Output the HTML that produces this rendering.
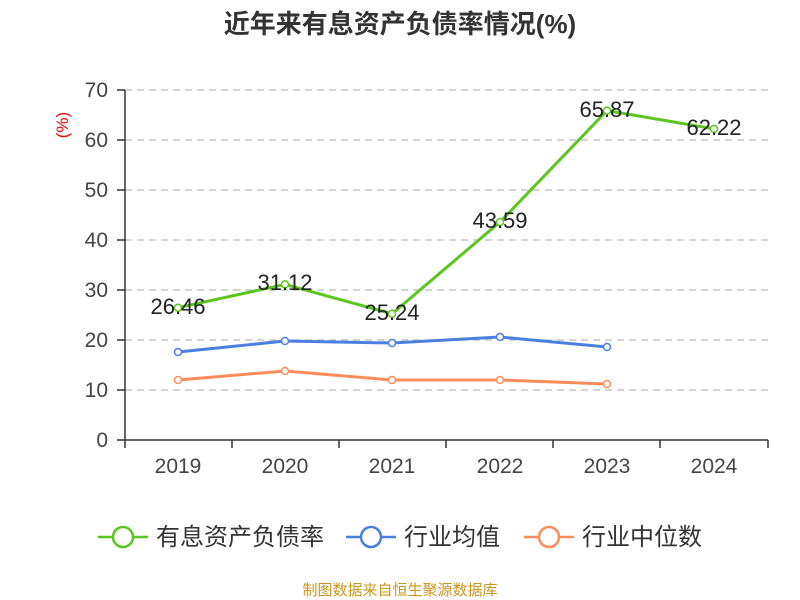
<!DOCTYPE html>
<html><head><meta charset="utf-8"><style>
html,body{margin:0;padding:0;background:#fff;}
svg{display:block;font-family:"Liberation Sans","Noto Sans CJK SC",sans-serif;}
</style></head><body>
<svg width="800" height="600" viewBox="0 0 800 600">
<text x="400" y="33" text-anchor="middle" font-size="26" font-weight="bold" fill="#333">近年来有息资产负债率情况(%)</text>
<text x="68" y="125" text-anchor="middle" font-size="17" fill="#e00" transform="rotate(-90 68 125)">(%)</text>
<g stroke="#bbb" stroke-dasharray="7,5" stroke-width="1.2">
<line x1="125" y1="90" x2="768" y2="90"/><line x1="125" y1="140" x2="768" y2="140"/>
<line x1="125" y1="190" x2="768" y2="190"/><line x1="125" y1="240" x2="768" y2="240"/>
<line x1="125" y1="290" x2="768" y2="290"/><line x1="125" y1="340" x2="768" y2="340"/>
<line x1="125" y1="390" x2="768" y2="390"/>
</g>
<g stroke="#333" stroke-width="1.5">
<line x1="125" y1="90" x2="125" y2="440"/><line x1="125" y1="440" x2="768" y2="440"/>
<line x1="117" y1="90" x2="125" y2="90"/><line x1="117" y1="140" x2="125" y2="140"/><line x1="117" y1="190" x2="125" y2="190"/><line x1="117" y1="240" x2="125" y2="240"/><line x1="117" y1="290" x2="125" y2="290"/><line x1="117" y1="340" x2="125" y2="340"/><line x1="117" y1="390" x2="125" y2="390"/><line x1="117" y1="440" x2="125" y2="440"/>
<line x1="125" y1="440" x2="125" y2="448"/><line x1="232" y1="440" x2="232" y2="448"/><line x1="339" y1="440" x2="339" y2="448"/><line x1="446" y1="440" x2="446" y2="448"/><line x1="553" y1="440" x2="553" y2="448"/><line x1="660" y1="440" x2="660" y2="448"/><line x1="768" y1="440" x2="768" y2="448"/>
</g>
<g font-size="21" fill="#444" text-anchor="end">
<text x="108" y="97">70</text><text x="108" y="147">60</text><text x="108" y="197">50</text><text x="108" y="247">40</text><text x="108" y="297">30</text><text x="108" y="347">20</text><text x="108" y="397">10</text><text x="108" y="447">0</text>
</g>
<g font-size="21" fill="#444" text-anchor="middle">
<text x="178" y="473">2019</text><text x="285" y="473">2020</text><text x="392" y="473">2021</text><text x="500" y="473">2022</text><text x="607" y="473">2023</text><text x="714" y="473">2024</text>
</g>
<polyline fill="none" stroke="#ff8c5a" stroke-width="3" points="178,380 285,371 392,380 500,380 607,384"/>
<g fill="#fff" stroke="#ff8c5a" stroke-width="1.5"><circle cx="178" cy="380" r="3.5"/><circle cx="285" cy="371" r="3.5"/><circle cx="392" cy="380" r="3.5"/><circle cx="500" cy="380" r="3.5"/><circle cx="607" cy="384" r="3.5"/></g>
<polyline fill="none" stroke="#4a7fe0" stroke-width="3" points="178,352 285,341 392,343 500,337 607,347"/>
<g fill="#fff" stroke="#4a7fe0" stroke-width="1.5"><circle cx="178" cy="352" r="3.5"/><circle cx="285" cy="341" r="3.5"/><circle cx="392" cy="343" r="3.5"/><circle cx="500" cy="337" r="3.5"/><circle cx="607" cy="347" r="3.5"/></g>
<polyline fill="none" stroke="#5cc61f" stroke-width="3" points="178,307.7 285,284.4 392,313.8 500,222 607,110.6 714,128.9"/>
<g fill="#fff" stroke="#5cc61f" stroke-width="1.5"><circle cx="178" cy="307.7" r="3.5"/><circle cx="285" cy="284.4" r="3.5"/><circle cx="392" cy="313.8" r="3.5"/><circle cx="500" cy="222" r="3.5"/><circle cx="607" cy="110.6" r="3.5"/><circle cx="714" cy="128.9" r="3.5"/></g>
<g font-size="22" fill="#222" text-anchor="middle">
<text x="178" y="314">26.46</text><text x="285" y="290">31.12</text><text x="392" y="320">25.24</text><text x="500" y="228">43.59</text><text x="607" y="117">65.87</text><text x="714" y="135">62.22</text>
</g>
<g stroke-width="2.5" fill="#fff">
<line x1="98" y1="537" x2="148" y2="537" stroke="#5cc61f"/><circle cx="123" cy="537" r="10" stroke="#5cc61f"/>
<line x1="346" y1="537" x2="396" y2="537" stroke="#4a7fe0"/><circle cx="371" cy="537" r="10" stroke="#4a7fe0"/>
<line x1="524" y1="537" x2="574" y2="537" stroke="#ff8c5a"/><circle cx="549" cy="537" r="10" stroke="#ff8c5a"/>
</g>
<g font-size="24" fill="#333">
<text x="156" y="545">有息资产负债率</text><text x="404" y="545">行业均值</text><text x="582" y="545">行业中位数</text>
</g>
<text x="400" y="595" text-anchor="middle" font-size="15" fill="#c8961e">制图数据来自恒生聚源数据库</text>
</svg>
</body></html>
